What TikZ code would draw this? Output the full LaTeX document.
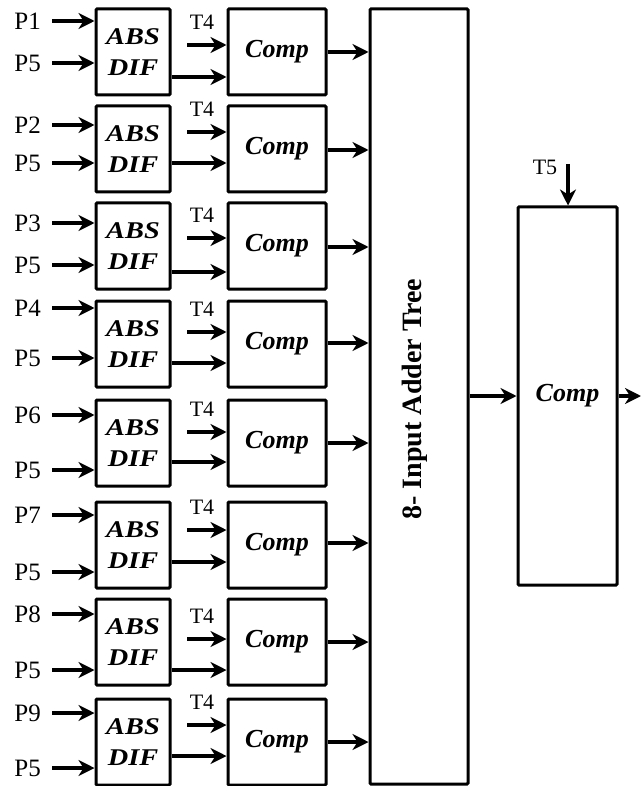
\documentclass[tikz,border=0pt]{standalone}
\usepackage{fontspec}
\setmainfont{Liberation Serif}
\newfontfamily\widefont[FakeStretch=1.18]{Liberation Serif}
\usetikzlibrary{arrows.meta,calc}
\tikzset{
  arr/.style={line width=3.2pt,-{Stealth[length=16pt,width=16pt,inset=5pt]}},
  blk/.style={draw,line width=3pt,rounded corners=1pt,inner sep=0pt,anchor=center},
  absbox/.style={blk,minimum width=74pt,minimum height=86pt,align=center,
    font=\widefont\fontsize{24}{31}\selectfont\bfseries\itshape},
  cmpbox/.style={blk,minimum width=98pt,minimum height=86pt,
    font=\fontsize{26}{30}\selectfont\bfseries\itshape},
  plabel/.style={anchor=east,inner xsep=11pt,inner ysep=0pt,font=\fontsize{25}{28}\selectfont},
  tlabel/.style={inner sep=0pt,font=\fontsize{22}{26}\selectfont},
}
\begin{document}
\begin{tikzpicture}[x=1pt,y=-1pt]
\useasboundingbox[fill=white] (0,0) rectangle (640,786);
\node[blk,minimum width=98pt,minimum height=775pt] (adder) at (419,396.5) {};
\node[rotate=90,inner sep=0pt,font=\fontsize{28}{30}\selectfont\bfseries] (addlbl) at (415,399) {8- Input Adder Tree};
\foreach \i/\p/\top/\ya/\yb/\yt/\yo/\yc in {
  1/P1/9/21/63/45/77/52,
  2/P2/106/125/163/132/163/150,
  3/P3/203/223/265/238/272/247,
  4/P4/301/308/358/332/363/343,
  5/P6/400/415/470/432/462/443,
  6/P7/502/515/572/530/562/543,
  7/P8/599/614/670/639/670/642,
  8/P9/699/713/768/725/756/742}{
  \node[absbox] (abs\i) at (133,\top+43) {ABS\\DIF};
  \node[cmpbox] (cmp\i) at (277,\top+43) {Comp};
  \node[plabel] (pa\i) at (52,\ya) {\p};
  \node[plabel] (pb\i) at (52,\yb) {P5};
  \draw[arr] (pa\i.east) -- (pa\i.east -| abs\i.west);
  \draw[arr] (pb\i.east) -- (pb\i.east -| abs\i.west);
  \coordinate (t\i) at (187,\yt);
  \node[tlabel] (tl\i) at (202,\yt-23) {T4};
  \draw[arr] (t\i) -- (t\i -| cmp\i.west);
  \coordinate (o\i) at (0,\yo);
  \draw[arr] (abs\i.east |- o\i) -- (cmp\i.west |- o\i);
  \coordinate (c\i) at (0,\yc);
  \draw[arr] (cmp\i.east |- c\i) -- (adder.west |- c\i);
}
\node[blk,minimum width=99pt,minimum height=378pt,font=\fontsize{26}{30}\selectfont\bfseries\itshape] (rcomp) at (567.5,396) {Comp};
\coordinate (t5) at (568,164);
\node[tlabel] (t5lbl) at (545,167) {T5};
\draw[arr] (t5) -- (t5 |- rcomp.north);
\draw[arr] (adder.east |- rcomp.west) -- (rcomp.west);
\coordinate (outend) at (641,396);
\draw[arr] (rcomp.east) -- (outend);
\end{tikzpicture}
\end{document}
